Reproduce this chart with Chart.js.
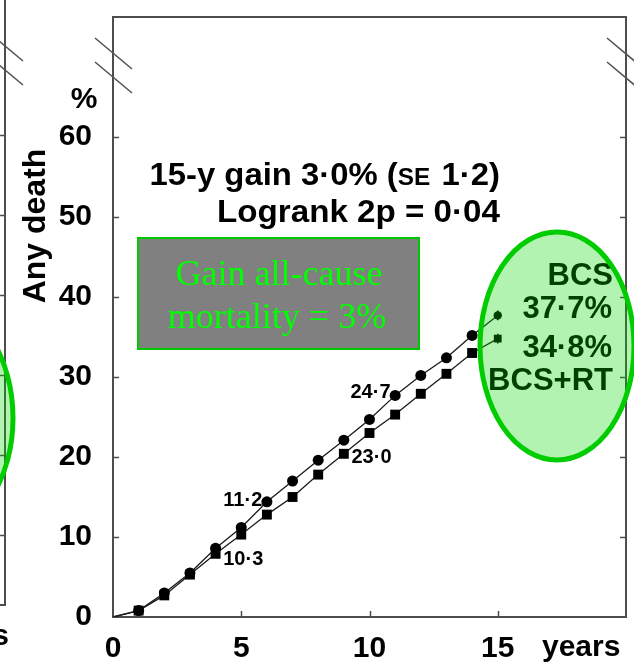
<!DOCTYPE html>
<html>
<head>
<meta charset="utf-8">
<script src="https://cdn.jsdelivr.net/npm/chart.js@4/dist/chart.umd.min.js"></script>
<style>
  html, body { margin: 0; padding: 0; background: #fff; }
  #wrap { width: 634px; height: 664px; }
</style>
</head>
<body>
<div id="wrap"><canvas id="c" width="634" height="664"></canvas></div>
<script>
// Cumulative any-cause death (%) by year after breast-conserving surgery
const years  = [0, 1, 2, 3, 4, 5, 6, 7, 8, 9, 10, 11, 12, 13, 14, 15];
const bcs    = [0, 0.8, 3.0, 5.5, 8.6, 11.2, 14.4, 17.0, 19.6, 22.1, 24.7, 27.7, 30.2, 32.4, 35.2, 37.7];
const bcsRt  = [0, 0.8, 2.7, 5.3, 7.9, 10.3, 12.8, 15.0, 17.8, 20.4, 23.0, 25.3, 27.9, 30.4, 33.0, 34.8];
const endSE  = [0.6, 0.6];            // spread of the 15-year estimates (BCS, BCS+RT)
const seriesNames = ['BCS', 'BCS+RT'];
const xTickValues = [0, 5, 10, 15];
const yTickValues = [0, 10, 20, 30, 40, 50, 60];
const labelledYears = [5, 10];
const gainText  = '15-y gain 3\u00b70% (';
const gainSE    = 'SE';
const gainTail  = ' 1\u00b72)';
const logrankText = 'Logrank 2p = 0\u00b704';
const boxLines  = ['Gain all-cause', 'mortality = 3%'];

const SANS = '"Liberation Sans", Arial, Helvetica, sans-serif';
const SERIF = '"Liberation Serif", "Times New Roman", serif';
const fmt = v => v.toFixed(1).replace('.', '\u00b7');

const pts = arr => years.map((t, i) => ({ x: t, y: arr[i] }));
const radii = (r, rEnd) => years.map((t, i) => i === 0 ? 0 : (i === years.length - 1 ? rEnd : r));

const axisColor = '#4d4d4d';

// text drawn slightly widened, anchored at its right end
function wideTextRight(ctx, parts, right, base, sx) {
  let total = 0;
  parts.forEach(p => { ctx.font = p.font; p.w = ctx.measureText(p.text).width + (p.gap || 0); total += p.w; });
  ctx.save();
  ctx.translate(right - total * sx, base);
  ctx.scale(sx, 1);
  ctx.textAlign = 'left';
  let cx = 0;
  parts.forEach(p => { ctx.font = p.font; ctx.fillText(p.text, cx, 0); cx += p.w; });
  ctx.restore();
}

const decor = {
  id: 'decor',
  beforeDatasetsDraw(chart) {
    const { ctx, chartArea: a, scales: { x, y } } = chart;
    ctx.save();
    ctx.strokeStyle = axisColor;
    ctx.lineWidth = 2;
    ctx.strokeRect(a.left, a.top, a.right - a.left, a.bottom - a.top);
    // inner tick marks
    ctx.lineWidth = 1.5;
    ctx.beginPath();
    yTickValues.forEach(v => {
      if (v === 0) return;
      const py = Math.round(y.getPixelForValue(v)) + 0.5;
      ctx.moveTo(a.left, py); ctx.lineTo(a.left + 6, py);
      ctx.moveTo(a.right, py); ctx.lineTo(a.right - 6, py);
    });
    xTickValues.forEach(v => {
      if (v === 0) return;
      const px = Math.round(x.getPixelForValue(v)) + 0.5;
      ctx.moveTo(px, a.bottom); ctx.lineTo(px, a.bottom - 6);
    });
    ctx.stroke();

    // neighbouring panel edge on the left
    ctx.lineWidth = 2;
    ctx.beginPath();
    ctx.moveTo(5, 0); ctx.lineTo(5, a.bottom - 12); ctx.lineTo(-2, a.bottom - 12);
    ctx.stroke();
    ctx.lineWidth = 1.5;
    ctx.beginPath();
    yTickValues.forEach(v => {
      if (v === 0) return;
      const py = Math.round(y.getPixelForValue(v)) - 1.5;
      ctx.moveTo(0, py); ctx.lineTo(5, py);
    });
    ctx.stroke();

    // axis break marks
    ctx.strokeStyle = '#555';
    ctx.lineWidth = 1.6;
    const brk = (x0, y0) => {
      ctx.beginPath();
      ctx.moveTo(x0, y0); ctx.lineTo(x0 + 37, y0 + 31);
      ctx.moveTo(x0, y0 + 24); ctx.lineTo(x0 + 37, y0 + 55);
      ctx.stroke();
    };
    brk(a.left - 18, 38);
    brk(a.right - 19, 38);
    brk(-14, 30);
    ctx.restore();
  },
  afterDatasetsDraw(chart) {
    const { ctx, chartArea: a, scales: { x, y } } = chart;
    ctx.save();

    // end-point spread bars at 15 years
    ctx.strokeStyle = '#000';
    ctx.lineWidth = 1.5;
    [bcs, bcsRt].forEach((arr, k) => {
      const v = arr[arr.length - 1];
      const px = x.getPixelForValue(years[years.length - 1]);
      ctx.beginPath();
      ctx.moveTo(px, y.getPixelForValue(v - endSE[k]));
      ctx.lineTo(px, y.getPixelForValue(v + endSE[k]));
      ctx.stroke();
    });

    ctx.fillStyle = '#000';
    // values at 5 and 10 years
    ctx.font = 'bold 20px ' + SANS;
    labelledYears.forEach(t => {
      const i = years.indexOf(t);
      const px = x.getPixelForValue(t);
      ctx.textAlign = 'right';
      ctx.fillText(fmt(bcs[i]), px + 21, y.getPixelForValue(bcs[i]) - 21);
      ctx.textAlign = 'left';
      ctx.fillText(fmt(bcsRt[i]), px - 18, y.getPixelForValue(bcsRt[i]) + 30);
    });

    // axis captions
    ctx.font = 'bold 30px ' + SANS;
    ctx.textAlign = 'center';
    ctx.fillText('%', 84, 108);
    ctx.textAlign = 'left';
    ctx.fillText('years', 542, 656);
    ctx.textAlign = 'right';
    ctx.fillText('years', 9, 645);
    ctx.save();
    ctx.translate(45, 226);
    ctx.rotate(-Math.PI / 2);
    ctx.textAlign = 'center';
    ctx.font = 'bold 32px ' + SANS;
    ctx.fillText('Any death', 0, 0);
    ctx.restore();

    // statistics
    const big = 'bold 31px ' + SANS, small = 'bold 23px ' + SANS;
    wideTextRight(ctx, [{ text: gainText, font: big }, { text: gainSE, font: small, gap: 2 }, { text: gainTail, font: big }], 500, 185, 1.06);
    wideTextRight(ctx, [{ text: logrankText, font: big }], 500, 222, 1.07);

    // summary box
    ctx.fillStyle = '#808080';
    ctx.fillRect(138, 238, 281, 111);
    ctx.strokeStyle = '#00c800';
    ctx.lineWidth = 2;
    ctx.strokeRect(138, 238, 281, 111);
    ctx.fillStyle = '#00ff00';
    ctx.font = '36px ' + SERIF;
    ctx.textAlign = 'center';
    ctx.fillText(boxLines[0], 279, 285);
    ctx.fillText(boxLines[1], 277, 328);

    // 15-year results
    ctx.fillStyle = '#000';
    ctx.font = 'bold 31px ' + SANS;
    ctx.textAlign = 'right';
    ctx.fillText(seriesNames[0], 613, 285);
    ctx.fillText(fmt(bcs[bcs.length - 1]) + '%', 612, 318);
    ctx.fillText(fmt(bcsRt[bcsRt.length - 1]) + '%', 612, 357);
    ctx.fillText(seriesNames[1], 613, 390);

    // highlight ellipses
    const ell = (cx, cy) => {
      ctx.beginPath();
      ctx.ellipse(cx, cy, 77, 114, 0, 0, Math.PI * 2);
      ctx.fillStyle = 'rgba(0, 215, 0, 0.3)';
      ctx.fill();
      ctx.strokeStyle = '#00cc00';
      ctx.lineWidth = 5;
      ctx.stroke();
    };
    ell(557, 346);
    ell(-64, 418);
    ctx.restore();
  }
};

new Chart(document.getElementById('c'), {
  type: 'line',
  data: {
    datasets: [
      {
        label: seriesNames[0],
        data: pts(bcs),
        borderColor: '#1a1a1a', borderWidth: 1.3,
        pointStyle: 'circle', pointRadius: radii(5.5, 4.2),
        pointBackgroundColor: '#000', pointBorderWidth: 0,
        tension: 0
      },
      {
        label: seriesNames[1],
        data: pts(bcsRt),
        borderColor: '#1a1a1a', borderWidth: 1.3,
        pointStyle: 'rect', pointRadius: radii(7, 5.5),
        pointBackgroundColor: '#000', pointBorderWidth: 0,
        tension: 0
      }
    ]
  },
  options: {
    responsive: false,
    animation: false,
    devicePixelRatio: 1,
    layout: { padding: { top: 17, right: 8, left: 0, bottom: 0 } },
    plugins: { legend: { display: false }, tooltip: { enabled: false } },
    scales: {
      x: {
        type: 'linear', min: 0, max: 20,
        afterFit(s) { s.height = 47; s.paddingLeft = 0; s.paddingRight = 0; },
        afterBuildTicks(s) { s.ticks = xTickValues.map(v => ({ value: v })); },
        grid: { display: false }, border: { display: false },
        ticks: { color: '#000', padding: 6, maxRotation: 0, autoSkip: false,
                 font: { family: SANS, weight: 'bold', size: 30 } }
      },
      y: {
        type: 'linear', min: 0, max: 75,
        afterFit(s) { s.width = 113; s.paddingTop = 0; s.paddingBottom = 0; },
        afterBuildTicks(s) { s.ticks = yTickValues.map(v => ({ value: v })); },
        grid: { display: false }, border: { display: false },
        ticks: { color: '#000', padding: 13, autoSkip: false,
                 font: { family: SANS, weight: 'bold', size: 30 } }
      }
    }
  },
  plugins: [decor]
});
</script>
</body>
</html>
